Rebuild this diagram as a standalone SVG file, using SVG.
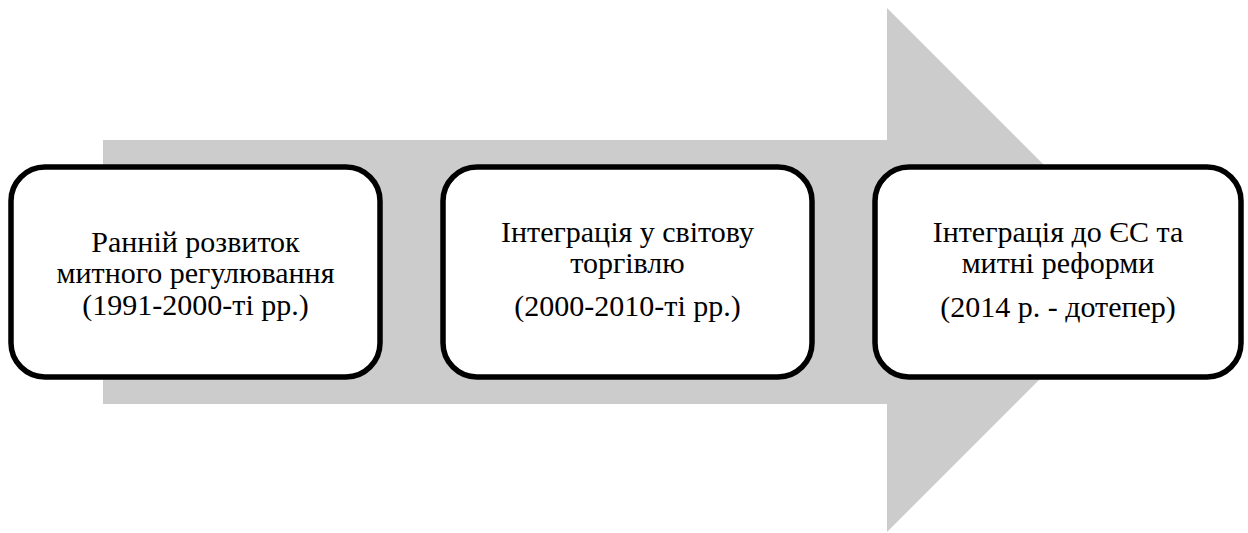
<svg xmlns="http://www.w3.org/2000/svg" width="1248" height="533" viewBox="0 0 1248 533">
<defs>
<style>
.box{fill:#ffffff;stroke:#000000;stroke-width:5.5}
.t{font-family:'Liberation Serif',serif;font-size:30px;text-anchor:middle;fill:#000000}
</style>
</defs>
<rect width="1248" height="533" fill="#ffffff"/>
<g id="connectors">
<polygon points="103,140 887,140 887,8 1149,270 887,532 887,404 103,404" fill="#cccccc"/>
</g>
<g id="node1">
<rect class="box" x="11" y="167" width="369" height="210" rx="34" ry="34"/>
<text class="t" x="195.5" y="252" font-family="serif">Ранній розвиток</text>
<text class="t" x="195.5" y="283" font-family="serif">митного регулювання</text>
<text class="t" x="195.5" y="315" font-family="serif">(1991-2000-ті рр.)</text>
</g>
<g id="node2">
<rect class="box" x="443" y="167" width="369" height="210" rx="34" ry="34"/>
<text class="t" x="627.5" y="242" font-family="serif">Інтеграція у світову</text>
<text class="t" x="627.5" y="273" font-family="serif">торгівлю</text>
<text class="t" x="627.5" y="316" font-family="serif">(2000-2010-ті рр.)</text>
</g>
<g id="node3">
<rect class="box" x="875" y="167" width="366" height="210" rx="34" ry="34"/>
<text class="t" x="1058" y="242" font-family="serif">Інтеграція до ЄС та</text>
<text class="t" x="1058" y="273" font-family="serif">митні реформи</text>
<text class="t" x="1058" y="317" font-family="serif">(2014 р. - дотепер)</text>
</g>
</svg>
